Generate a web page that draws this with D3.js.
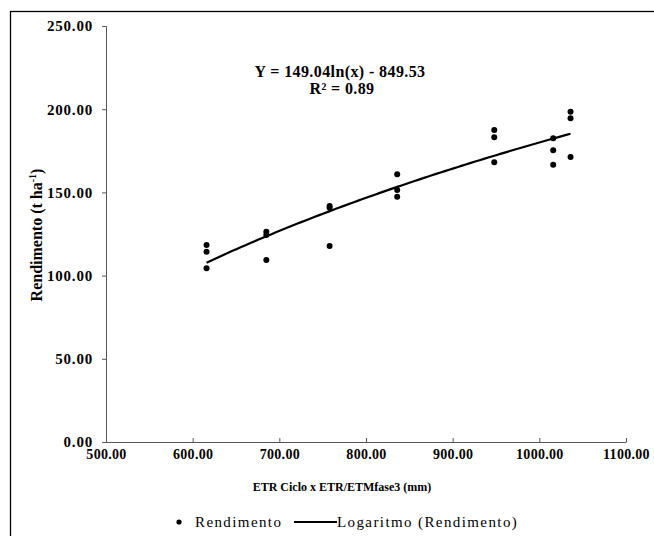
<!DOCTYPE html>
<html>
<head>
<meta charset="utf-8">
<script src="https://cdn.jsdelivr.net/npm/d3@7"></script>
<style>
  body { margin: 0; background: #fff; }
  svg { display: block; }
  text { fill: #000; }
</style>
</head>
<body>
<svg width="654" height="536"></svg>
<script>
// ETR ciclo x ETR/ETMfase3 (mm) and yield (t ha-1)
var etr = [616, 616, 616, 685, 685, 685, 758, 758, 758, 836, 836, 836,
           948, 948, 948, 1016, 1016, 1016, 1036, 1036, 1036];
var rendimento = [118.4, 114.4, 104.4, 126.4, 124.4, 109.4, 141.8, 140.8, 117.8,
                  160.9, 151.4, 147.4, 187.5, 183.1, 168.1, 182.5, 175.3, 166.6,
                  198.5, 194.5, 171.3];
// trend line as printed on the chart: Y = 149.04 ln(x) - 849.53
var trendA = 149.04, trendB = -849.53, trendR2 = 0.89;
var xTicks = [500, 600, 700, 800, 900, 1000, 1100];
var yTicks = [0, 50, 100, 150, 200, 250];

var serif = "'Liberation Serif', 'Times New Roman', Times, serif";

var svg = d3.select("svg");

// outer frame
svg.append("rect")
    .attr("x", 10.5).attr("y", 11.5)
    .attr("width", 660).attr("height", 540)
    .attr("fill", "none").attr("stroke", "#000").attr("stroke-width", 1.3);

var x = d3.scaleLinear().domain([500, 1100]).range([106, 626]),
    y = d3.scaleLinear().domain([0, 250]).range([442, 26]);

var fmt = d3.format(".2f");

// y axis
var gy = svg.append("g")
    .attr("transform", "translate(" + x(500) + ",0)")
    .call(d3.axisLeft(y).tickValues(yTicks).tickFormat(fmt).tickSize(4).tickPadding(9));
gy.select(".domain").attr("stroke", "#555");
gy.selectAll(".tick line").attr("stroke", "#555");
gy.selectAll(".tick text")
    .attr("font-family", serif).attr("font-size", 15).attr("letter-spacing", 0.8)
    .attr("font-weight", "bold").attr("fill", "#000");

// x axis (ticks point inward)
var gx = svg.append("g")
    .attr("transform", "translate(0," + y(0) + ")")
    .call(d3.axisBottom(x).tickValues(xTicks).tickFormat(fmt).tickSizeInner(-4).tickSizeOuter(0).tickPadding(7));
gx.select(".domain").attr("stroke", "#555");
gx.selectAll(".tick line").attr("stroke", "#555");
gx.selectAll(".tick text")
    .attr("font-family", serif).attr("font-size", 14).attr("letter-spacing", 0.3)
    .attr("font-weight", "bold").attr("fill", "#000");

// axis titles
svg.append("text")
    .attr("x", 342).attr("y", 491)
    .attr("text-anchor", "middle")
    .attr("font-family", serif).attr("font-size", 12).attr("font-weight", "bold")
    .text("ETR  Ciclo x ETR/ETMfase3  (mm)");

var yt = svg.append("text")
    .attr("transform", "translate(42,235) rotate(-90)")
    .attr("text-anchor", "middle")
    .attr("font-family", serif).attr("font-size", 16).attr("font-weight", "bold");
yt.append("tspan").text("Rendimento  (t ha");
yt.append("tspan").attr("dy", -6).attr("font-size", 10).text("-1");
yt.append("tspan").attr("dy", 6).text(")");

// trend line
var xs = d3.extent(etr);
var curve = d3.range(xs[0], xs[1] + 0.1, 5).map(function(v) {
  return {x: v, y: trendA * Math.log(v) + trendB};
});
var line = d3.line()
    .x(function(d) { return x(d.x); })
    .y(function(d) { return y(d.y); });
svg.append("path")
    .datum(curve)
    .attr("d", line)
    .attr("fill", "none").attr("stroke", "#000").attr("stroke-width", 2.2);

// points
svg.selectAll(".pt")
    .data(etr.map(function(v, i) { return {x: v, y: rendimento[i]}; }))
    .enter().append("circle")
    .attr("class", "pt")
    .attr("cx", function(d) { return x(d.x); })
    .attr("cy", function(d) { return y(d.y); })
    .attr("r", 3)
    .attr("fill", "#000");

// equation
svg.append("text")
    .attr("x", 340).attr("y", 77)
    .attr("text-anchor", "middle")
    .attr("font-family", serif).attr("font-size", 16).attr("letter-spacing", 0.4).attr("font-weight", "bold")
    .text("Y = " + trendA.toFixed(2) + "ln(x) - " + Math.abs(trendB).toFixed(2));
svg.append("text")
    .attr("x", 342).attr("y", 94)
    .attr("text-anchor", "middle")
    .attr("font-family", serif).attr("font-size", 16).attr("letter-spacing", 0.4).attr("font-weight", "bold")
    .text("R\u00b2 = " + trendR2.toFixed(2));

// legend
var lg = svg.append("g").attr("transform", "translate(0,522)");
lg.append("circle").attr("cx", 179).attr("cy", 0).attr("r", 2.6).attr("fill", "#000");
lg.append("text").attr("x", 195).attr("y", 5)
    .attr("font-family", serif).attr("font-size", 15).attr("letter-spacing", 1.4).text("Rendimento");
lg.append("line").attr("x1", 294).attr("x2", 337).attr("y1", 0).attr("y2", 0)
    .attr("stroke", "#000").attr("stroke-width", 2);
lg.append("text").attr("x", 337).attr("y", 5)
    .attr("font-family", serif).attr("font-size", 15).attr("letter-spacing", 1.4).text("Logaritmo (Rendimento)");
</script>
</body>
</html>
